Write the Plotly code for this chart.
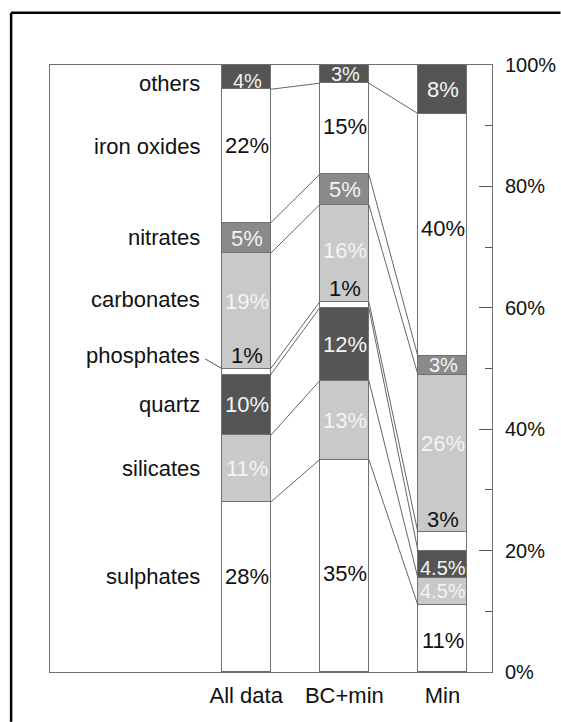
import plotly.graph_objects as go

# Stacked composition (%) of each dataset, bottom to top
groups = ["All data", "BC+min", "Min"]
components = ["sulphates", "silicates", "quartz", "phosphates",
              "carbonates", "nitrates", "iron oxides", "others"]
all_data = [28, 11, 10, 1, 19, 5, 22, 4]
bc_min = [35, 13, 12, 1, 16, 5, 15, 3]
min_only = [11, 4.5, 4.5, 3, 26, 3, 40, 8]
value_labels = [
    ["28%", "11%", "10%", "1%", "19%", "5%", "22%", "4%"],
    ["35%", "13%", "12%", "1%", "16%", "5%", "15%", "3%"],
    ["11%", "4.5%", "4.5%", "3%", "26%", "3%", "40%", "8%"],
]
y_ticks = [0, 20, 40, 60, 80, 100]
y_tick_text = ["0%", "20%", "40%", "60%", "80%", "100%"]

WHITE, LIGHT, MID, DARK = "#ffffff", "#c9c9c9", "#8a8a8a", "#555555"
fills = [WHITE, LIGHT, DARK, WHITE, LIGHT, MID, WHITE, DARK]
FONT = "Liberation Sans, Arial, sans-serif"
BAR_W = 0.5
TXT = 22

# small vertical nudges (px) for label placement inside tall segments
nudge = [
    [11, 0, 0, 0, 9, 0, 11, -4],
    [-8, 0, 0, 0, 3, 0, 2, 0],
    [-2, 1, -4, 0, 10, 0, 6, 0],
]
name_nudge = [11, 0, 0, 0, 11, 1, 10, -6]

series = [all_data, bc_min, min_only]
xpos = list(range(len(groups)))

fig = go.Figure()

# stacked bar segments
for k, name in enumerate(components):
    fig.add_trace(go.Bar(
        x=xpos, y=[s[k] for s in series], width=BAR_W, name=name,
        marker=dict(color=fills[k], line=dict(color="#707070", width=1)),
        showlegend=False, hoverinfo="skip",
    ))

# cumulative boundaries of every stack
def cumulative(vals):
    out, c = [], 0
    for v in vals:
        c += v
        out.append(c)
    return out

cums = [cumulative(s) for s in series]

# connector lines between matching boundaries of neighbouring stacks
cx, cy = [], []
for i in range(len(series) - 1):
    for k in range(len(components) - 1):
        cx += [xpos[i] + BAR_W / 2, xpos[i + 1] - BAR_W / 2, None]
        cy += [cums[i][k], cums[i + 1][k], None]
fig.add_trace(go.Scatter(x=cx, y=cy, mode="lines",
                         line=dict(color="#666666", width=1),
                         showlegend=False, hoverinfo="skip"))

# value labels inside segments (phosphates sit just above their thin strip)
PHOS = components.index("phosphates")
for i, s in enumerate(series):
    for k, v in enumerate(s):
        top = cums[i][k]
        if k == PHOS:
            yk, col = top + 2.2, "#111111"
        else:
            yk = top - v / 2
            col = "#111111" if fills[k] == WHITE else "#f4f4f4"
        size = TXT if v >= 5 or k == PHOS else TXT - 2
        fig.add_annotation(x=xpos[i], y=yk, text=value_labels[i][k],
                           showarrow=False, yshift=nudge[i][k], xshift=1,
                           font=dict(family=FONT, size=size, color=col))

# component names to the left of the first stack
for k, name in enumerate(components):
    top = cums[0][k]
    yk = top + 2.2 if k == PHOS else top - all_data[k] / 2
    fig.add_annotation(x=xpos[0] - BAR_W / 2, y=yk, text=name, showarrow=False,
                       xanchor="right", xshift=-20, yshift=name_nudge[k],
                       font=dict(family=FONT, size=TXT, color="#111111"))

# leader from the phosphates name to its strip
p_top = cums[0][PHOS]
fig.add_shape(type="line", x0=xpos[0] - BAR_W / 2 - 0.17, y0=p_top + 1.6,
              x1=xpos[0] - BAR_W / 2, y1=p_top,
              line=dict(color="#555555", width=1))

# outer frame (top and left edges; the rest runs off the page)
fig.add_shape(type="line", xref="paper", yref="paper",
              x0=-0.088, y0=1.086, x1=1.155, y1=1.086,
              line=dict(color="#000000", width=2.5))
fig.add_shape(type="line", xref="paper", yref="paper",
              x0=-0.088, y0=-0.082, x1=-0.088, y1=1.086,
              line=dict(color="#000000", width=2.5))

fig.update_layout(
    width=561, height=722,
    margin=dict(l=50, r=69, t=65, b=50, autoexpand=False),
    barmode="stack", bargap=0,
    paper_bgcolor="#ffffff", plot_bgcolor="#ffffff",
    font=dict(family=FONT, size=TXT, color="#111111"),
    xaxis=dict(range=[-2, 2.505], tickvals=xpos, ticktext=groups,
               showline=True, linecolor="#707070", linewidth=1, mirror=True,
               showgrid=False, zeroline=False, ticks="",
               ticklabelstandoff=4,
               tickfont=dict(size=TXT), fixedrange=True),
    yaxis=dict(range=[0, 100], side="right", tickvals=y_ticks,
               ticktext=y_tick_text, ticks="inside", ticklen=13,
               tickcolor="#555555", tickwidth=1,
               minor=dict(dtick=10, ticks="inside", ticklen=7,
                          tickcolor="#555555", tickwidth=1),
               showline=True, linecolor="#707070", linewidth=1, mirror=True,
               showgrid=False, zeroline=False, ticklabelstandoff=8,
               tickfont=dict(size=20), fixedrange=True),
)

fig.write_html("out.html", config={"displayModeBar": False})
